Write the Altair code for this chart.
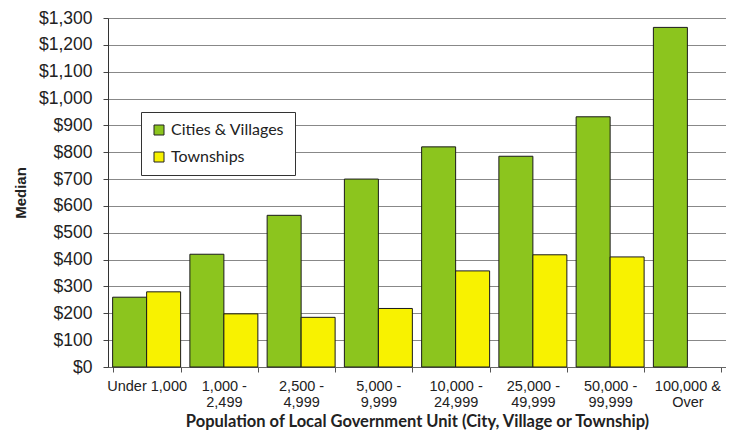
import altair as alt
import pandas as pd

categories = ["Under 1,000", "1,000 -|2,499", "2,500 -|4,999", "5,000 -|9,999",
              "10,000 -|24,999", "25,000 -|49,999", "50,000 -|99,999", "100,000 &|Over"]
series = ["Cities & Villages", "Townships"]
cities = [260, 420, 565, 700, 820, 785, 932, 1265]
townships = [280, 198, 185, 218, 358, 418, 410, None]
colors = ["#8CC51E", "#F8F200"]

rows = []
for c, a, b in zip(categories, cities, townships):
    rows.append({"cat": c, "series": series[0], "value": a})
    if b is not None:
        rows.append({"cat": c, "series": series[1], "value": b})
df = pd.DataFrame(rows)

chart = alt.Chart(df).mark_bar(stroke="#1a1a1a", strokeWidth=1).encode(
    x=alt.X("cat:N", sort=categories,
            scale=alt.Scale(paddingInner=0.12, paddingOuter=0.06),
            axis=alt.Axis(title="Population of Local Government Unit (City, Village or Township)",
                          labelAngle=0, labelExpr="split(datum.label, '|')",
                          labelFont="Liberation Sans", labelFontSize=14.5, labelColor="#222",
                          labelPadding=7, labelLineHeight=16,
                          tickBand="extent", tickSize=5, tickColor="#555",
                          domainColor="#666", grid=False,
                          titleFont="Lato", titleFontSize=16.5, titleFontWeight="bold",
                          titleColor="#222", titleY=62, titleBaseline="bottom")),
    xOffset=alt.XOffset("series:N", sort=series),
    y=alt.Y("value:Q", scale=alt.Scale(domain=[0, 1300], nice=False),
            axis=alt.Axis(title="Median", values=list(range(0, 1301, 100)), format="$,.0f",
                          labelFont="Liberation Sans", labelFontSize=17.5, labelColor="#222",
                          labelPadding=11, tickSize=5, tickColor="#444",
                          domainColor="#333", gridColor="#888", gridWidth=1,
                          titleFont="Liberation Sans", titleFontSize=15, titleFontWeight="bold",
                          titleColor="#222", titlePadding=10)),
    color=alt.Color("series:N", sort=series,
                    scale=alt.Scale(domain=series, range=colors),
                    legend=alt.Legend(title=None, orient="none", legendX=33, legendY=94,
                                      symbolType="square", symbolSize=100,
                                      symbolStrokeColor="#222", symbolStrokeWidth=1,
                                      labelFont="Lato", labelFontSize=16, labelColor="#222",
                                      rowPadding=11, padding=10,
                                      strokeColor="#333", fillColor="white")),
).properties(
    width=618, height=349,
    autosize=alt.AutoSizeParams(type="none"),
    padding={"left": 100, "top": 10, "right": 0, "bottom": 63},
).configure_view(strokeWidth=0).configure(background="white")

chart.save("out.html", embed_options={"renderer": "svg", "actions": False})
